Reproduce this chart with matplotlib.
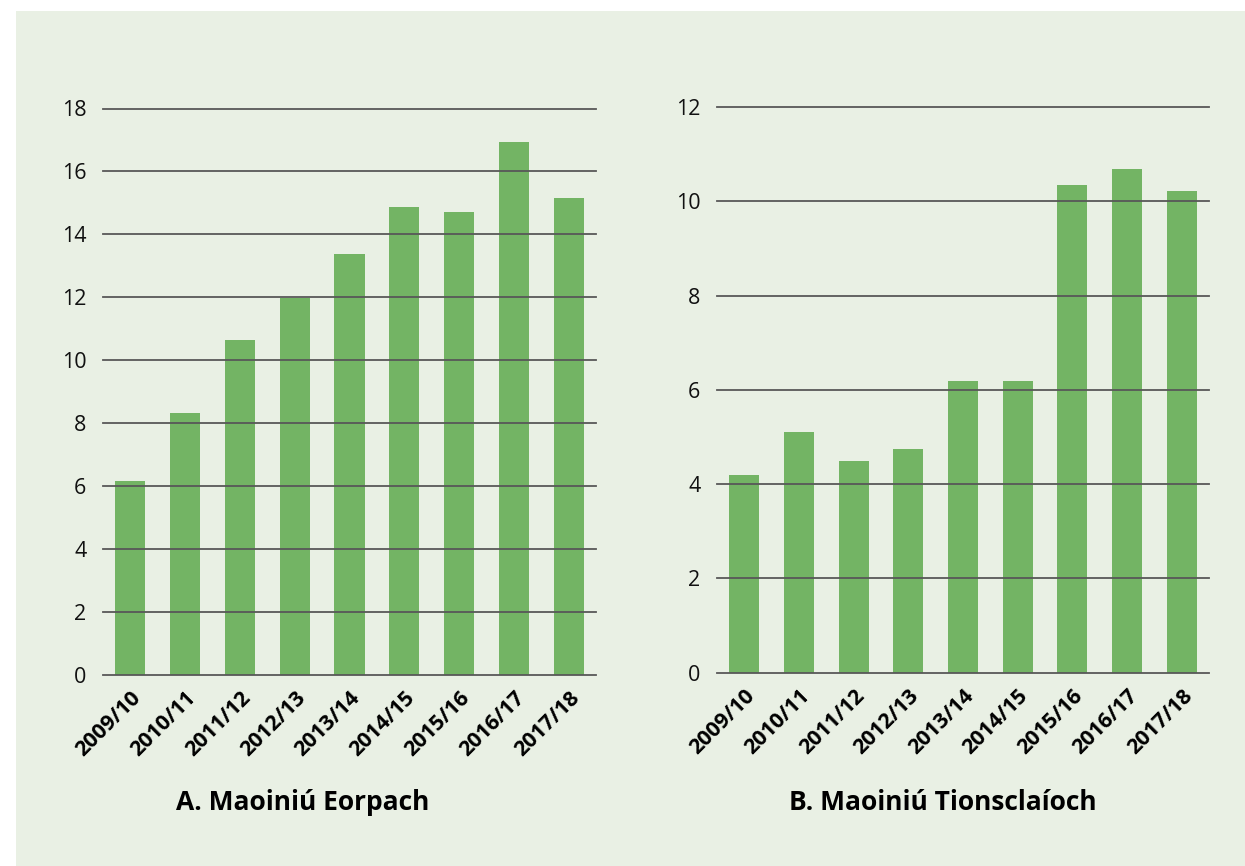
import matplotlib
matplotlib.use("Agg")
import matplotlib.pyplot as plt
from matplotlib.patches import Rectangle

plt.rcParams['font.family'] = ['Open Sans', 'DejaVu Sans']

years = ["2009/10", "2010/11", "2011/12", "2012/13", "2013/14",
         "2014/15", "2015/16", "2016/17", "2017/18"]
european = [6.18, 8.34, 10.63, 11.97, 13.37, 14.86, 14.70, 16.95, 15.17]
industrial = [4.20, 5.11, 4.50, 4.75, 6.19, 6.19, 10.35, 10.69, 10.22]
title_a = "A. Maoiniú Eorpach"
title_b = "B. Maoiniú Tionsclaíoch"
yticks_a = [0, 2, 4, 6, 8, 10, 12, 14, 16, 18]
yticks_b = [0, 2, 4, 6, 8, 10, 12]

W, H = 1245, 866
BG = "#e9f0e4"
BAR = "#73b464"
GRID = "#585858"

fig = plt.figure(figsize=(W / 100, H / 100), dpi=100)
fig.patch.set_facecolor("white")
fig.patches.append(Rectangle((16 / W, 0), 1 - 16 / W, 1 - 11 / H,
                             transform=fig.transFigure, facecolor=BG,
                             edgecolor="none", zorder=-10))


def px_axes(x0, x1, ytop, ybot):
    return fig.add_axes([x0 / W, 1 - ybot / H, (x1 - x0) / W, (ybot - ytop) / H])


def draw(ax, values, yticks, title, tx):
    ax.set_facecolor("none")
    x = list(range(len(years)))
    ax.bar(x, values, width=0.55, color=BAR, zorder=1)
    ax.set_xlim(-0.5, len(years) - 0.5)
    ax.set_ylim(yticks[0], yticks[-1])
    ax.set_yticks(yticks)
    ax.set_yticklabels([str(t) for t in yticks], fontsize=15.5, fontweight="normal",
                       color="#111111")
    for t in yticks:
        ax.axhline(t, color=GRID, lw=1.3, zorder=3, clip_on=False)
    ax.set_xticks(x)
    ax.set_xticklabels(years, rotation=45, ha="right", va="top",
                       rotation_mode="anchor", fontsize=15.5, fontweight="bold",
                       color="black")
    ax.tick_params(axis="both", length=0)
    ax.tick_params(axis="y", pad=12)
    ax.tick_params(axis="x", pad=9)
    for s in ax.spines.values():
        s.set_visible(False)
    fig.text(tx / W, 1 - 802 / H, title, ha="center", va="center",
             fontsize=19, fontweight="bold", color="black")


ax1 = px_axes(103, 596, 108.5, 675)
draw(ax1, european, yticks_a, title_a, 303)
ax2 = px_axes(717, 1209, 107, 672.7)
draw(ax2, industrial, yticks_b, title_b, 943)

fig.savefig("out.png", dpi=100, facecolor=fig.get_facecolor())
